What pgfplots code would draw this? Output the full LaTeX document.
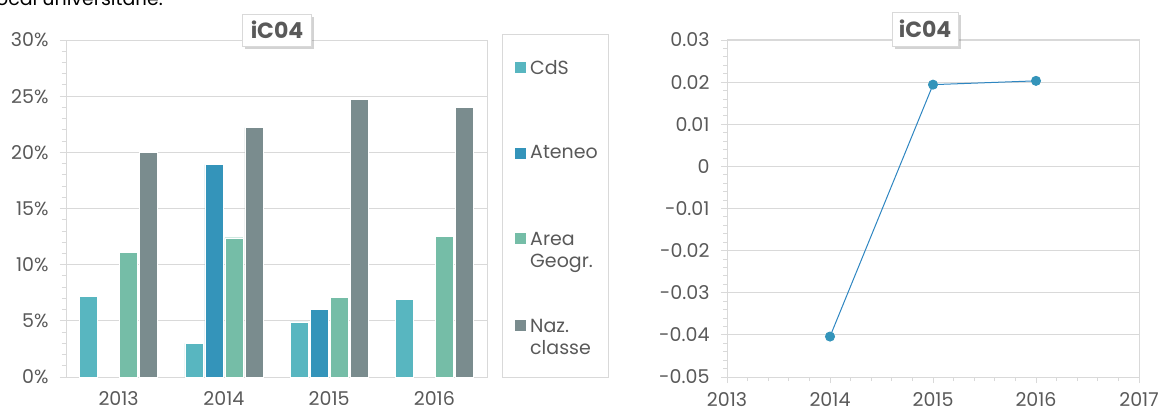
\documentclass[border=0pt]{standalone}
\usepackage{fontspec}
\setmainfont{Poppins}
\usepackage{pgfplots}
\pgfplotsset{compat=1.18}
\usetikzlibrary{shadows}

\definecolor{cds}{HTML}{58B6C0}
\definecolor{ateneo}{HTML}{3494BA}
\definecolor{area}{HTML}{75BDA7}
\definecolor{naz}{HTML}{7A8C8E}
\definecolor{txt}{HTML}{595959}
\definecolor{gridc}{HTML}{D9D9D9}
\definecolor{linec}{HTML}{2E86C1}

\newcommand{\twoline}[2]{\raisebox{0pt}[\height][0pt]{\begin{tabular}[t]{@{}l@{}}#1\\#2\end{tabular}}}

\pgfplotsset{
  chartbase/.style={
    scale only axis,
    anchor=south west,
    axis line style={gridc, line width=1pt},
    grid style={gridc, line width=0.9pt},
    tick style={gridc, line width=0.9pt},
    tick align=outside,
    major tick length=6pt,
    minor tick length=4pt,
    tick label style={txt, font=\fontsize{19}{22}\selectfont},
  },
}

\begin{document}
\begin{tikzpicture}
\useasboundingbox (0pt,0pt) rectangle (1175pt,413pt);

% cut-off line of text above the charts
\node[anchor=base west, inner sep=0pt, font=\fontsize{19}{24}\selectfont] at (-4pt,407pt) {ocal universitarie.};

% ---- left: bar chart ----
\begin{axis}[
  chartbase,
  at={(66pt,36pt)},
  width=421pt, height=337pt,
  ybar=2pt, bar width=18pt,
  xmin=-0.5, xmax=3.5,
  ymin=0, ymax=30,
  xtick={0,1,2,3},
  xticklabels={2013,2014,2015,2016},
  x tick style={draw=none},
  xticklabel style={yshift=-6pt, inner ysep=2pt},
  ytick={0,5,10,15,20,25,30},
  yticklabels={0\%,5\%,10\%,15\%,20\%,25\%,30\%},
  yticklabel style={xshift=-8pt},
  minor y tick num=4,
  ytick pos=left,
  ymajorgrids,
  legend style={
    at={(1,1)}, anchor=north west, xshift=28pt, yshift=-18pt,
    draw=none, fill=none, inner sep=0pt,
    row sep=66pt,
    font=\fontsize{19}{22}\selectfont, text=txt,
    cells={anchor=west},
  },
  every axis plot post/.append style={
    legend image code/.code={\fill[##1, draw=none] (0pt,-5.5pt) rectangle (11pt,5.5pt);}
  },
]
\addplot[fill=cds, draw=white, line width=0.4pt] coordinates {(0,7.2) (1,3.0) (2,4.9) (3,6.9)};
\addlegendentry{\hspace{2pt}CdS}
\addplot[fill=ateneo, draw=white, line width=0.4pt] coordinates {(1,18.9) (2,6.0)};
\addlegendentry{\hspace{2pt}Ateneo}
\addplot[fill=area, draw=white, line width=0.4pt] coordinates {(0,11.1) (1,12.4) (2,7.1) (3,12.5)};
\addlegendentry{\hspace{2pt}\twoline{Area}{Geogr.}}
\addplot[fill=naz, draw=white, line width=0.4pt] coordinates {(0,20.0) (1,22.2) (2,24.7) (3,24.0)};
\addlegendentry{\hspace{2pt}\twoline{Naz.}{classe}}
\end{axis}

% legend frame
\draw[gridc, line width=1pt] (502pt,36pt) rectangle (608pt,378pt);

% ---- right: line chart (x: 0 = 2013 ... 4 = 2017) ----
\begin{axis}[
  chartbase,
  at={(727pt,36pt)},
  width=412pt, height=337pt,
  xmin=0, xmax=4,
  ymin=-0.05, ymax=0.03,
  scaled y ticks=false,
  xtick={0,1,2,3,4},
  xticklabels={2013,2014,2015,2016,2017},
  xticklabel style={yshift=-7pt, inner ysep=2pt},
  minor x tick num=4,
  xtick pos=bottom,
  ytick={-0.05,-0.04,-0.03,-0.02,-0.01,0,0.01,0.02,0.03},
  yticklabels={-0.05,-0.04,-0.03,-0.02,-0.01,0,0.01,0.02,0.03},
  yticklabel style={xshift=-8pt},
  minor y tick num=4,
  ytick pos=left,
  ymajorgrids,
]
\addplot[linec, line width=1pt, mark=*, mark size=4.5pt,
  mark options={fill=ateneo, draw=ateneo}]
  coordinates {(1,-0.0404) (2,0.0194) (3,0.0203)};
\end{axis}

% title boxes
\node[draw=gridc, fill=white, line width=0.8pt,
  drop shadow={opacity=0.35, shadow xshift=2.5pt, shadow yshift=-3pt},
  text=txt, font=\bfseries\fontsize{22}{26}\selectfont,
  minimum width=69pt, minimum height=32pt] at (277pt,383pt) {iC04};
\node[draw=gridc, fill=white, line width=0.8pt,
  drop shadow={opacity=0.35, shadow xshift=2.5pt, shadow yshift=-3pt},
  text=txt, font=\bfseries\fontsize{22}{26}\selectfont,
  minimum width=66pt, minimum height=34pt] at (925pt,384pt) {iC04};
\end{tikzpicture}
\end{document}
